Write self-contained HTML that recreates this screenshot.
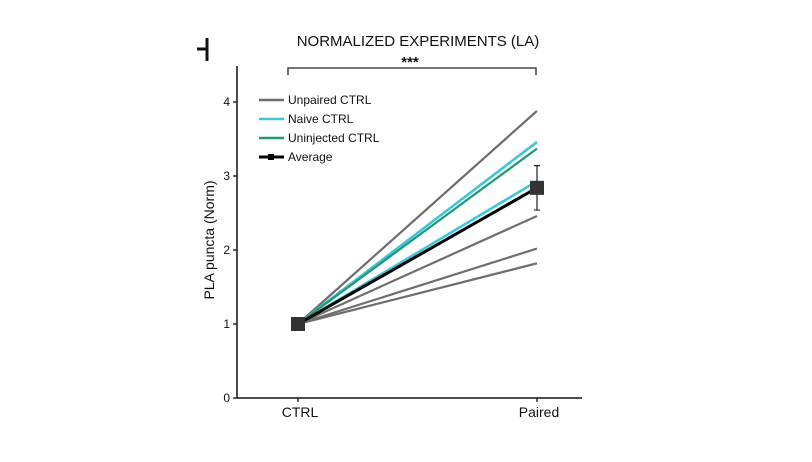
<!DOCTYPE html>
<html><head><meta charset="utf-8"><style>
body{margin:0;background:#fff;font-family:"Liberation Sans",sans-serif}
svg text{font-family:"Liberation Sans",sans-serif;fill:#111}
</style></head><body>
<svg width="812" height="457">
<script>
const categories=["CTRL","Paired"];
const grayVals=[3.88,2.46,2.02,1.82];
const cyanVals=[3.46,2.93];
const greenVals=[3.37];
const avgVal=2.84;
const avgErr=0.30;
const yTicks=[0,1,2,3,4];
const legendLabels=["Unpaired CTRL","Naive CTRL","Uninjected CTRL","Average"];
</script>
<g id="g"></g>
</svg>
<script>
const NS="http://www.w3.org/2000/svg";
const svg=document.querySelector("svg");
const x=i=>i===0?298:537;
const y=v=>398-v*74;
function mk(t,a,txt){const e=document.createElementNS(NS,t);for(const k in a)e.setAttribute(k,a[k]);if(txt!==undefined)e.textContent=txt;svg.appendChild(e);return e;}
let e;
e=mk("path",{d:"M207 38 V61 M197 49 H207",stroke:"#111","stroke-width":3,fill:"none"});


e=mk("text",{x:418,y:46,"font-size":15,"text-anchor":"middle"},"NORMALIZED EXPERIMENTS (LA)");


e=mk("path",{d:"M288 75 V68 H536 V75",stroke:"#222","stroke-width":1.3,fill:"none"});


e=mk("text",{x:410,y:67,"font-size":15,"font-weight":"bold","text-anchor":"middle"},"***");


e=mk("path",{d:"M237 66 V398 H582",stroke:"#111","stroke-width":1.5,fill:"none"});


yTicks.forEach(t=>{
 e=mk("line",{x1:233,x2:237,y1:y(t),y2:y(t),stroke:"#111","stroke-width":1.3});
 
 
 e=mk("text",{x:230,y:y(t)+4,"font-size":12,"text-anchor":"end"},t);
 
 
});
categories.forEach((c,i)=>{
 e=mk("line",{x1:x(i),x2:x(i),y1:398,y2:402,stroke:"#111","stroke-width":1.3});
 
 
 e=mk("text",{x:x(i)+2,y:417,"font-size":14,"text-anchor":"middle"},c);
 
 
});
e=mk("text",{x:214,y:240,"font-size":14,"text-anchor":"middle",transform:"rotate(-90 214 240)"},"PLA puncta (Norm)");


function line(v,col,w,name){e=mk("line",{x1:x(0),y1:y(1),x2:x(1),y2:y(v),stroke:col,"stroke-width":w});
 
 }
grayVals.forEach(v=>line(v,"#6e6e6e",2.2,"unpaired-line"));
cyanVals.forEach(v=>line(v,"#3cc6de",2.6,"naive-line"));
greenVals.forEach(v=>line(v,"#1f9a70",2.2,"uninjected-line"));
line(avgVal,"#000",3,"average-line");
e=mk("path",{d:`M${x(1)} ${y(avgVal+avgErr)} V${y(avgVal-avgErr)} M${x(1)-3} ${y(avgVal+avgErr)} H${x(1)+3} M${x(1)-3} ${y(avgVal-avgErr)} H${x(1)+3}`,stroke:"#222","stroke-width":1.2,fill:"none"});


[[0,1],[1,avgVal]].forEach(([i,v])=>{
 e=mk("rect",{x:x(i)-7,y:y(v)-7,width:14,height:14,fill:"#333"});
 
 
});
const lc=["#6e6e6e","#3cc6de","#1f9a70","#000"];
legendLabels.forEach((l,i)=>{
 const yy=100+i*19;
 e=mk("line",{x1:259,x2:284,y1:yy,y2:yy,stroke:lc[i],"stroke-width":i===3?3:2.4});
 
 
 if(i===3){e=mk("rect",{x:268,y:yy-3,width:6,height:6,fill:"#000"});
 
 }
 e=mk("text",{x:288,y:yy+4,"font-size":12},l);
 
 
});
</script>
</body></html>
